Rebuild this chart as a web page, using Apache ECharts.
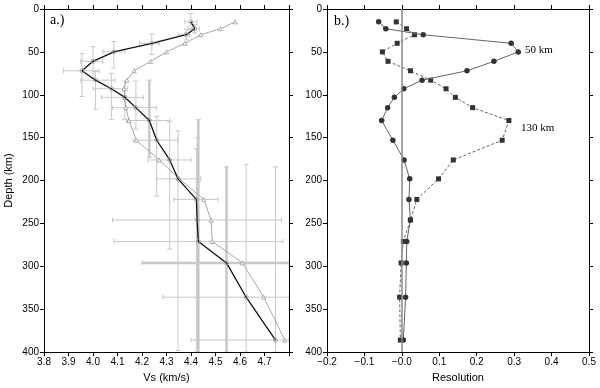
<!DOCTYPE html>
<html>
<head>
<meta charset="utf-8">
<script src="https://cdn.jsdelivr.net/npm/echarts@6/dist/echarts.min.js"></script>
<style>
html,body{margin:0;padding:0;background:#fff;}
#chart{width:600px;height:388px;}
</style>
</head>
<body>
<div id="chart"></div>
<script>
// ---- Data ----
const depths = [15, 23, 30, 40, 50, 61, 72, 83, 93, 103, 115, 130, 153, 176, 198, 222, 246, 271, 296, 336, 386];
const vsModel = [4.40, 4.415, 4.38, 4.24, 4.085, 4.0, 3.955, 4.01, 4.075, 4.13, 4.175, 4.23, 4.26, 4.313, 4.347, 4.422, 4.425, 4.43, 4.545, 4.625, 4.745];
const vsStart = [4.58, 4.52, 4.44, 4.375, 4.30, 4.235, 4.168, 4.138, 4.126, 4.13, 4.134, 4.147, 4.177, 4.27, 4.352, 4.452, 4.482, 4.487, 4.61, 4.697, 4.783];
const vsLow  = [4.375, 4.388, 4.347, 4.19, 4.04, 3.95, 3.88, 3.95, 4.0, 4.035, 4.08, 4.137, 4.164, 4.225, 4.26, 4.33, 4.08, 4.086, 4.20, 4.286, 4.40];
const vsHigh = [4.425, 4.435, 4.394, 4.27, 4.13, 4.04, 4.025, 4.09, 4.14, 4.205, 4.26, 4.313, 4.347, 4.40, 4.44, 4.51, 4.77, 4.775, 4.80, 4.80, 4.80];
const depthLow  = [5, 18, 24, 29, 38, 44, 52, 73, 75, 84, 84, 83, 125, 131, 142, 163, 150, 129, 184, 181, 184];
const depthHigh = [24, 28, 36, 53, 69, 80, 102, 117, 129, 129, 140, 173, 218, 280, 398, 400, 400, 400, 400, 400, 400];

const resDepths = [15, 23, 30, 40, 50, 61, 72, 83, 93, 103, 115, 130, 153, 176, 198, 222, 246, 271, 296, 336, 386];
const res50  = [-0.062, -0.043, 0.057, 0.292, 0.311, 0.246, 0.174, 0.054, 0.005, -0.020, -0.038, -0.054, -0.024, 0.006, 0.021, 0.019, 0.023, 0.013, 0.012, 0.010, 0.004];
const res130 = [-0.015, 0.0125, 0.034, -0.0125, -0.052, -0.037, 0.023, 0.077, 0.118, 0.143, 0.189, 0.286, 0.268, 0.1375, 0.098, 0.040, 0.023, 0.004, -0.002, -0.006, -0.004];

const vsTicks = [3.8, 3.9, 4.0, 4.1, 4.2, 4.3, 4.4, 4.5, 4.6, 4.7];
const resTicks = [-0.2, -0.1, 0.0, 0.1, 0.2, 0.3, 0.4, 0.5];
const depthTicks = [0, 50, 100, 150, 200, 250, 300, 350, 400];

// ---- Chart ----
const chart = echarts.init(document.getElementById('chart'), null, {renderer: 'canvas'});
const FONT = 'Liberation Sans, Arial, Helvetica, sans-serif';
const SERIF = 'Liberation Serif, Times New Roman, serif';
const thickV = new Set([11, 17, 18]);
const thickH = new Set([18]);

const grids = [
  {left: 44, top: 9, width: 245, height: 345},
  {left: 327, top: 9, width: 262, height: 345}
];

function xAxisDef(gi, pos, show, min, max, fmt, name) {
  return {
    type: 'value', gridIndex: gi, position: pos, min: min, max: max, interval: 0.1,
    name: show ? name : '', nameLocation: 'middle', nameGap: 17,
    nameTextStyle: {fontFamily: FONT, fontSize: 11, color: '#000'},
    axisLine: {show: true, onZero: false, lineStyle: {color: '#000', width: 1}},
    axisTick: {show: true, inside: false, length: 4, lineStyle: {color: '#000'}},
    axisLabel: {show: show, fontFamily: FONT, fontSize: 10, color: '#000', margin: 5, formatter: fmt},
    splitLine: {show: false}
  };
}
function yAxisDef(gi, pos, show, name) {
  return {
    type: 'value', gridIndex: gi, position: pos, min: 0, max: 400, interval: 50, inverse: true,
    name: show ? name : '', nameLocation: 'middle', nameGap: 30,
    nameTextStyle: {fontFamily: FONT, fontSize: 11, color: '#000'},
    axisLine: {show: true, onZero: false, lineStyle: {color: '#000', width: 1}},
    axisTick: {show: true, inside: false, length: 4, lineStyle: {color: '#000'}},
    axisLabel: {show: show, fontFamily: FONT, fontSize: 10, color: '#000', margin: 5,
      formatter: v => depthTicks.includes(v) ? String(v) : ''},
    splitLine: {show: false}
  };
}

const vsFmt = v => {
  const r = Math.round(v * 10) / 10;
  return vsTicks.some(t => Math.abs(t - r) < 1e-6) ? r.toFixed(1) : '';
};
const resFmt = v => {
  const r = Math.round(v * 10) / 10;
  if (!resTicks.some(t => Math.abs(t - r) < 1e-6)) return '';
  if (Math.abs(r) < 1e-9) return '\u22120.0';
  return (r < 0 ? '\u2212' : '') + Math.abs(r).toFixed(1);
};

const errData = depths.map((d, i) => [vsModel[i], d, vsLow[i], vsHigh[i], depthLow[i], depthHigh[i]]);

function renderErr(params, api) {
  const i = params.dataIndex;
  const v = api.value(0), d = api.value(1);
  const L = api.coord([api.value(2), d]);
  const R = api.coord([api.value(3), d]);
  const T = api.coord([v, api.value(4)]);
  const B = api.coord([v, api.value(5)]);
  const cap = 2.5;
  const col = '#c8c8c8';
  const wh = thickH.has(i) ? 2.5 : 1;
  const wv = thickV.has(i) ? 2.5 : 1;
  const mk = (x1, y1, x2, y2, w) => ({type: 'line', shape: {x1, y1, x2, y2}, style: {stroke: col, lineWidth: w}});
  return {type: 'group', children: [
    mk(L[0], L[1], R[0], R[1], wh),
    mk(L[0], L[1] - cap, L[0], L[1] + cap, 1),
    mk(R[0], R[1] - cap, R[0], R[1] + cap, 1),
    mk(T[0], T[1], B[0], B[1], wv),
    mk(T[0] - cap, T[1], T[0] + cap, T[1], 1),
    mk(B[0] - cap, B[1], B[0] + cap, B[1], 1)
  ]};
}

const option = {
  animation: false,
  backgroundColor: '#fff',
  grid: grids,
  xAxis: [
    xAxisDef(0, 'bottom', true, 3.8, 4.8, vsFmt, 'Vs (km/s)'),
    xAxisDef(1, 'bottom', true, -0.2, 0.5, resFmt, 'Resolution'),
    xAxisDef(0, 'top', false, 3.8, 4.8, vsFmt, ''),
    xAxisDef(1, 'top', false, -0.2, 0.5, resFmt, '')
  ],
  yAxis: [
    yAxisDef(0, 'left', true, 'Depth (km)'),
    yAxisDef(1, 'left', true, ''),
    yAxisDef(0, 'right', false, ''),
    yAxisDef(1, 'right', false, '')
  ],
  series: [
    {type: 'custom', xAxisIndex: 0, yAxisIndex: 0, data: errData, renderItem: renderErr, z: 1, clip: true},
    {type: 'line', xAxisIndex: 0, yAxisIndex: 0, data: depths.map((d, i) => [vsStart[i], d]),
      symbol: 'triangle', symbolSize: 4, showSymbol: true,
      lineStyle: {color: '#a8a8a8', width: 1}, itemStyle: {color: '#fff', borderColor: '#999', borderWidth: 0.8}, z: 2},
    {type: 'line', xAxisIndex: 0, yAxisIndex: 0, data: depths.map((d, i) => [vsModel[i], d]),
      symbol: 'circle', symbolSize: 4, showSymbol: true,
      lineStyle: {color: '#111', width: 1.3}, itemStyle: {color: 'rgba(255,255,255,0)', borderColor: '#999', borderWidth: 0.8}, z: 3},
    {type: 'line', xAxisIndex: 1, yAxisIndex: 1, data: resDepths.map((d, i) => [res130[i], d]),
      symbol: 'rect', symbolSize: 5, lineStyle: {color: '#666', width: 1, type: [3, 2]},
      itemStyle: {color: '#333', borderWidth: 0}, z: 3,
      markLine: {silent: true, symbol: 'none', label: {show: false},
        lineStyle: {color: '#888', width: 1.5, type: 'solid'}, data: [{xAxis: 0}]}},
    {type: 'line', xAxisIndex: 1, yAxisIndex: 1, data: resDepths.map((d, i) => [res50[i], d]),
      symbol: 'circle', symbolSize: 5.5, lineStyle: {color: '#666', width: 1},
      itemStyle: {color: '#333', borderWidth: 0}, z: 4}
  ],
  graphic: [
    {type: 'text', left: 50, top: 13, style: {text: 'a.)', fontFamily: SERIF, fontSize: 14, fill: '#000'}},
    {type: 'text', left: 334, top: 14, style: {text: 'b.)', fontFamily: SERIF, fontSize: 14, fill: '#000'}},
    {type: 'text', left: 525, top: 45, style: {text: '50 km', fontFamily: SERIF, fontSize: 11, fill: '#000'}},
    {type: 'text', left: 521, top: 123, style: {text: '130 km', fontFamily: SERIF, fontSize: 11, fill: '#000'}}
  ]
};
chart.setOption(option);
</script>
</body>
</html>
